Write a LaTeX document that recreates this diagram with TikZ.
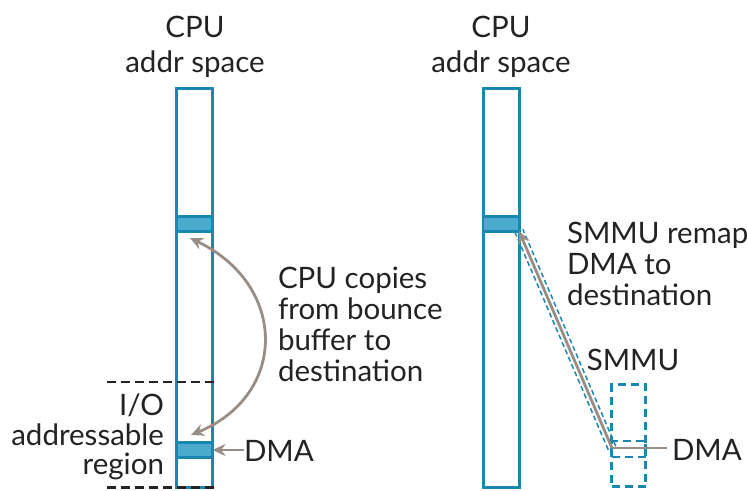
\documentclass[tikz,border=0pt]{standalone}
\usepackage{fontspec}
\setmainfont{Lato}
\usetikzlibrary{arrows.meta}
\definecolor{cblue}{RGB}{25,135,175}
\definecolor{cfill}{RGB}{75,170,205}
\definecolor{cgray}{RGB}{152,142,134}
\definecolor{ctext}{RGB}{35,35,35}
\begin{document}
\begin{tikzpicture}[x=1pt,y=-1pt,
  every node/.style={inner sep=0pt,outer sep=0pt,text=ctext,font=\fontsize{29.5}{31}\selectfont},
  txt/.style={anchor=base},
  txtl/.style={anchor=base west},
  txtr/.style={anchor=base east},
  column/.style={draw=cblue,line width=3pt,minimum width=36pt,minimum height=399pt},
  band/.style={draw=cblue,fill=cfill,line width=2.5pt,minimum width=36pt,minimum height=15pt},
  dbox/.style={draw=cblue,line width=2.5pt,dash pattern=on 8pt off 5pt},
  garrow/.style={draw=cgray,line width=2.8pt,-{Stealth[length=13pt,width=12pt]}},
  gline/.style={draw=cgray,line width=2.8pt},
  blackdash/.style={draw=ctext,line width=2.5pt,dash pattern=on 9pt off 5pt}
]
\useasboundingbox (0,0) rectangle (747,490);
% ---------- left
\node[txt] (t1) at (195,37) {CPU};
\node[txt] (t2) at (195,72) {addr space};
\node[column] (colL) at (194.5,288) {};
\node[band] (bandL1) at (194.5,224) {};
\node[band] (bandL2) at (194.5,450) {};
\coordinate (dL1a) at (107,382);
\coordinate (dL1b) at (214,382);
\coordinate (dL2a) at (107,487.5);
\coordinate (dL2b) at (214,487.5);
\draw[blackdash] (dL1a) -- (dL1b);
\draw[blackdash] (dL2a) -- (dL2b);
\node[txtr] (io1) at (164,415) {I/O};
\node[txtr] (io2) at (164,445) {addressable};
\node[txtr] (io3) at (164,474) {region};
\node[txtl] (dmaL) at (244,461) {DMA};
\draw[garrow] (dmaL.west |- bandL2.east) -- (bandL2.east);
\node[txtl] (c1) at (278,288) {CPU copies};
\node[txtl] (c2) at (278,319) {from bounce};
\node[txtl] (c3) at (278,350) {buffer to};
\node[txtl] (c4) at (278,381) {destination};
\coordinate (cA) at (191,435);
\coordinate (cB) at (190,238);
\draw[gline,{Stealth[length=13pt,width=12pt]}-{Stealth[length=13pt,width=12pt]}] (cA) .. controls (288,395) and (288,285) .. (cB);
% ---------- right
\node[txt] (r1) at (501,37) {CPU};
\node[txt] (r2) at (501,72) {addr space};
\node[column] (colR) at (501,288) {};
\node[band] (bandR1) at (501,224) {};
\node[txt] (smmu) at (633,370) {SMMU};
\node[dbox,minimum width=34pt,minimum height=102pt] (smmubox) at (628.5,435.5) {};
\node[dbox,minimum width=34pt,minimum height=16pt] (smmuband) at (628.5,449) {};
\node[txtl] (dmaR) at (672,460) {DMA};
\node[txtl] (m1) at (567,243) {SMMU remap};
\node[txtl] (m2) at (567,274.5) {DMA to};
\node[txtl] (m3) at (567,305) {destination};
\coordinate (aS) at (612,448);
\coordinate (aE) at (519,231);
\coordinate (dR) at (667,448);
\draw[cblue,line width=1.5pt,dash pattern=on 5pt off 3pt,transform canvas={shift={(3.8pt,1.7pt)}}] (aS) -- (aE);
\draw[cblue,line width=1.5pt,dash pattern=on 5pt off 3pt,transform canvas={shift={(-3.8pt,-1.7pt)}}] (aS) -- (aE);
\draw[gline] (dR) -- (aS);
\draw[garrow] (aS) -- (aE);
\end{tikzpicture}
\end{document}
